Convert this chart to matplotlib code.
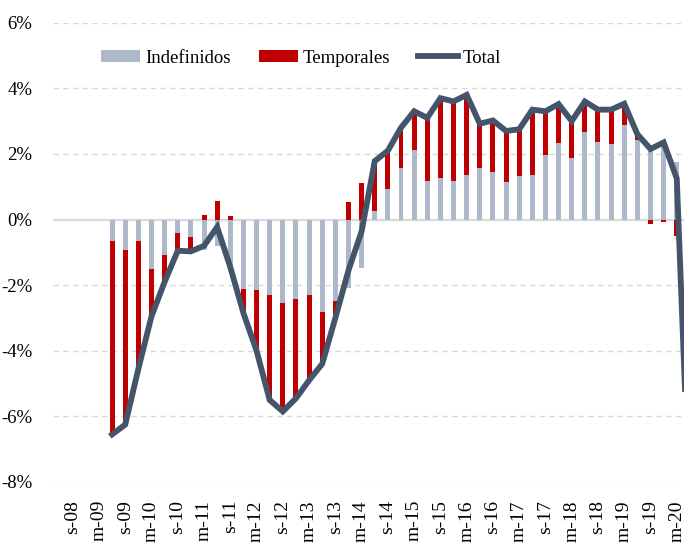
import numpy as np
import matplotlib
matplotlib.use("Agg")
import matplotlib.pyplot as plt

# ── datos (variación interanual, %) ───────────────────────────────────────────
# trimestres desde jun-09 hasta m-20 (barras); la línea llega a jun-20
indefinidos = [-0.64, -0.94, -0.64, -1.50, -1.07, -0.40, -0.52, -0.94, -0.81, -1.57,
               -2.11, -2.16, -2.29, -2.53, -2.41, -2.29, -2.81, -2.47, -2.08, -1.48,
               0.26, 0.93, 1.56, 2.13, 1.19, 1.26, 1.19, 1.37, 1.56, 1.44,
               1.14, 1.32, 1.37, 1.98, 2.34, 1.87, 2.66, 2.35, 2.29, 2.89,
               2.43, 2.28, 2.43, 1.75]
temporales = [-5.91, -5.31, -3.91, -1.45, -0.83, -0.55, -0.45, 0.14, 0.58, 0.12,
              -0.74, -1.84, -3.21, -3.32, -3.04, -2.61, -1.59, -0.53, 0.53, 1.12,
              1.52, 1.17, 1.24, 1.17, 1.91, 2.44, 2.41, 2.43, 1.36, 1.58,
              1.56, 1.43, 1.98, 1.32, 1.18, 1.13, 0.94, 1.00, 1.06, 0.64,
              0.17, -0.13, -0.08, -0.50]
total = [-6.55, -6.25, -4.55, -2.95, -1.90, -0.95, -0.97, -0.80, -0.23, -1.45,
         -2.85, -4.00, -5.50, -5.85, -5.45, -4.90, -4.40, -3.00, -1.55, -0.36,
         1.78, 2.10, 2.80, 3.30, 3.10, 3.70, 3.60, 3.80, 2.92, 3.02,
         2.70, 2.75, 3.35, 3.30, 3.52, 3.00, 3.60, 3.35, 3.35, 3.53,
         2.60, 2.15, 2.35, 1.25, -9.0]

xlabels = ["s-08", "m-09", "s-09", "m-10", "s-10", "m-11", "s-11", "m-12",
           "s-12", "m-13", "s-13", "m-14", "s-14", "m-15", "s-15", "m-16",
           "s-16", "m-17", "s-17", "m-18", "s-18", "m-19", "s-19", "m-20"]

FIRST = 4  # jun-09 es la 5ª categoría del eje (jun-08 = 0)

C_IND = "#adb9ca"
C_TEMP = "#c00000"
C_TOT = "#44546a"
GRID = "#d9d9d9"

plt.rcParams["font.family"] = ["Liberation Serif", "DejaVu Serif"]

ind = np.array(indefinidos)
tmp = np.array(temporales)
x_bar = np.arange(len(ind)) + FIRST
x_line = np.arange(len(total)) + FIRST
# apilado tipo Excel: positivos y negativos por separado
tmp_bottom = np.where(np.sign(ind) == np.sign(tmp), ind, 0)

fig = plt.figure(figsize=(6.84, 5.49), dpi=100)
ax = fig.add_axes([53 / 684, (549 - 482) / 549, (684 - 53) / 684, (482 - 22.7) / 549])

for v in [6, 4, 2, -2, -4, -6, -8]:
    ax.axhline(v, color=GRID, linewidth=1, linestyle=(0, (4, 3)), zorder=0)
ax.axhline(0, color=GRID, linewidth=1.6, zorder=1)

w = 0.38
b1 = ax.bar(x_bar, ind, width=w, color=C_IND, label="Indefinidos", zorder=2)
b2 = ax.bar(x_bar, tmp, width=w, bottom=tmp_bottom, color=C_TEMP, label="Temporales", zorder=2)
l1, = ax.plot(x_line, total, color=C_TOT, linewidth=4.2, solid_joinstyle="miter",
              label="Total", zorder=3)

ax.set_xlim(-0.5, 47.55)
ax.set_ylim(-8, 6)
ax.set_yticks([6, 4, 2, 0, -2, -4, -6, -8])
ax.set_yticklabels([f"{v}%" for v in [6, 4, 2, 0, -2, -4, -6, -8]])
ax.set_xticks(np.arange(1, 48, 2))
ax.set_xticklabels(xlabels, rotation=90)
ax.tick_params(axis="y", length=0, pad=15, labelsize=13.5)
ax.tick_params(axis="x", length=0, pad=13, labelsize=14)
for s in ax.spines.values():
    s.set_visible(False)

ax.legend([b1, b2, l1], ["Indefinidos", "Temporales", "Total"],
          loc="center", bbox_to_anchor=(0.44, 0.894), bbox_transform=fig.transFigure,
          ncol=3, frameon=False, fontsize=13.5, handlelength=2.1,
          handletextpad=0.25, columnspacing=1.5, handleheight=0.6)

fig.savefig("out.png", dpi=100)
